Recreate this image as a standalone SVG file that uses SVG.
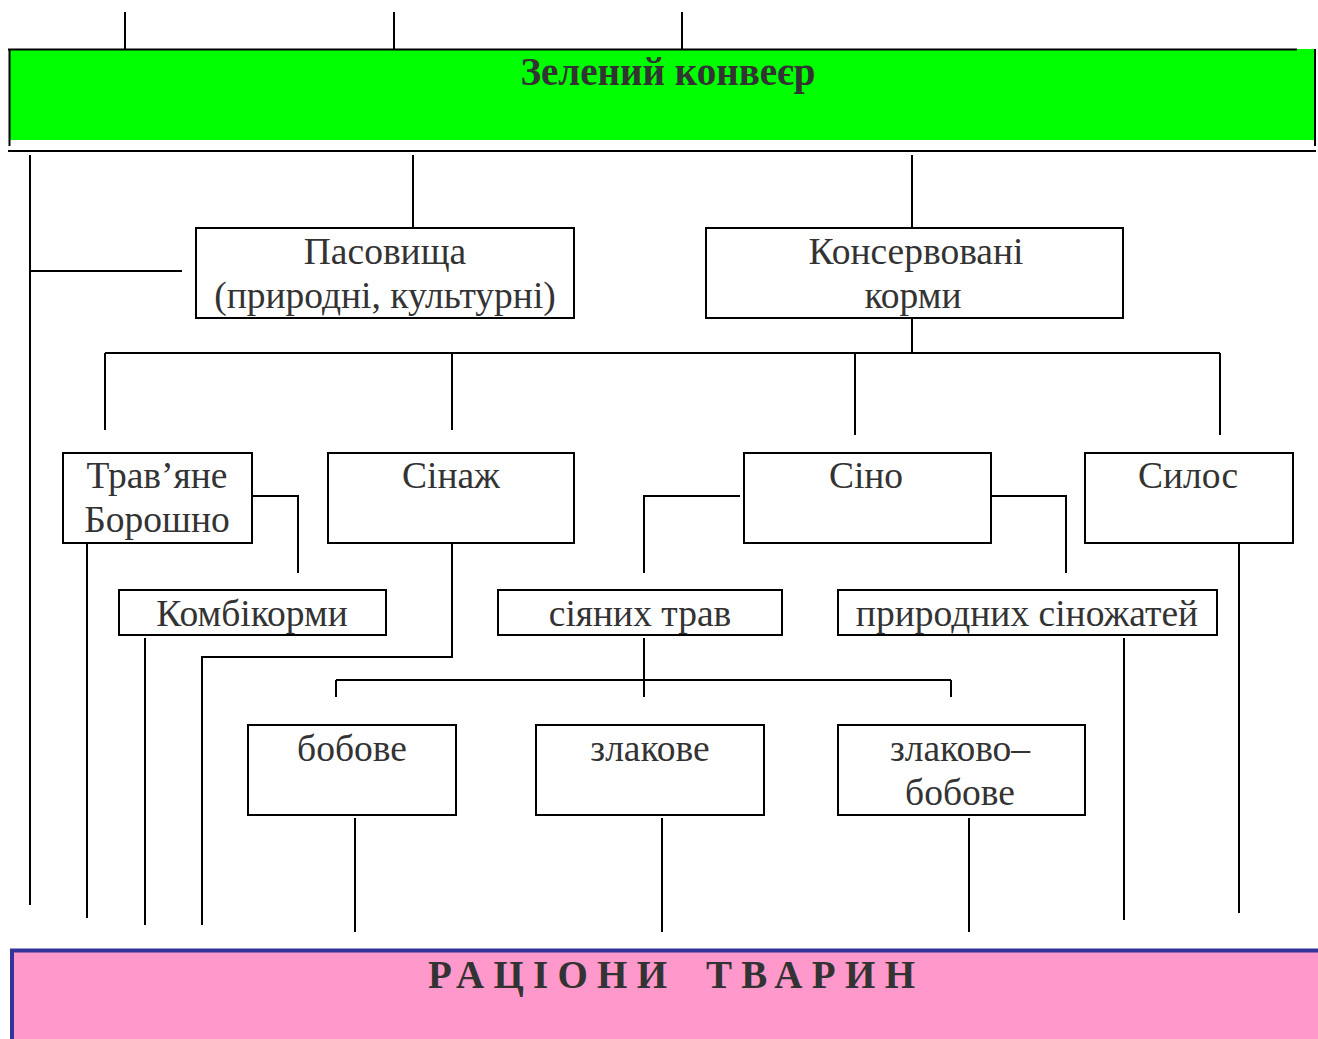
<svg xmlns="http://www.w3.org/2000/svg" width="1318" height="1039" viewBox="0 0 1318 1039">
<style>
.box{fill:#fff;stroke:#000;stroke-width:2}
.ln{stroke:#000;stroke-width:2;fill:none}
.t{font-family:"Liberation Serif","DejaVu Serif",serif;font-size:37.5px;fill:#333;text-anchor:middle}
.tb{font-family:"Liberation Serif","DejaVu Serif",serif;font-size:39px;font-weight:bold;fill:#333}
</style>
<rect width="1318" height="1039" fill="#fff"/>
<g id="zelenyi-konveier">
<rect x="10" y="49" width="1306" height="91" fill="#00ff00"/>
<line class="ln" x1="8" y1="49.5" x2="1105" y2="49.5" stroke-width="2.5"/>
<line class="ln" x1="1105" y1="49.5" x2="1297" y2="49.5" stroke-width="1.5"/>
<line class="ln" x1="9.5" y1="49" x2="9.5" y2="146"/>
<line class="ln" x1="1315" y1="49" x2="1315" y2="146"/>
<line class="ln" x1="8" y1="151" x2="1316" y2="151" stroke-width="2.5"/>
<text class="tb" x="668" y="85" text-anchor="middle">Зелений конвеєр</text>
</g>
<g id="connectors">
<path class="ln" d="M125 12V49M394 12V49M682 12V49"/>
<path class="ln" d="M30 155V905M30 271H182"/>
<path class="ln" d="M413 155V230M912 155V230"/>
<path class="ln" d="M912 310V353M105 353H1220M105 353V430M452 353V430M855 353V435M1220 353V435"/>
<path class="ln" d="M241 496H298V573"/>
<path class="ln" d="M87 535V918"/>
<path class="ln" d="M145 638V925"/>
<path class="ln" d="M452 535V657H202V925"/>
<path class="ln" d="M740 496H644V573"/>
<path class="ln" d="M990 496H1066V573"/>
<path class="ln" d="M1124 638V920"/>
<path class="ln" d="M1239 530V913"/>
<path class="ln" d="M644 638V697M336 680H951M336 680V697M951 680V697"/>
<path class="ln" d="M355 818V932M662 818V932M969 818V932"/>
</g>
<g id="pasovyshcha">
<rect class="box" x="196" y="228" width="378" height="90"/>
<text class="t" x="385" y="264">Пасовища</text>
<text class="t" x="385" y="308">(природні, культурні)</text>
</g>
<g id="konservovani">
<rect class="box" x="706" y="228" width="417" height="90"/>
<text class="t" x="916" y="264">Консервовані</text>
<text class="t" x="913" y="308">корми</text>
</g>
<g id="travyane">
<rect class="box" x="63" y="453" width="189" height="90"/>
<text class="t" x="157" y="488">Трав’яне</text>
<text class="t" x="157" y="532">Борошно</text>
</g>
<g id="sinazh">
<rect class="box" x="328" y="453" width="246" height="90"/>
<text class="t" x="451" y="488">Сінаж</text>
</g>
<g id="sino">
<rect class="box" x="744" y="453" width="247" height="90"/>
<text class="t" x="866" y="488">Сіно</text>
</g>
<g id="sylos">
<rect class="box" x="1085" y="453" width="208" height="90"/>
<text class="t" x="1188" y="488">Силос</text>
</g>
<g id="kombikormy">
<rect class="box" x="119" y="590" width="267" height="45"/>
<text class="t" x="252" y="626">Комбікорми</text>
</g>
<g id="siianykh">
<rect class="box" x="498" y="590" width="284" height="45"/>
<text class="t" x="640" y="626">сіяних трав</text>
</g>
<g id="pryrodnykh">
<rect class="box" x="838" y="590" width="379" height="45"/>
<text class="t" x="1027" y="626">природних сіножатей</text>
</g>
<g id="bobove">
<rect class="box" x="248" y="725" width="208" height="90"/>
<text class="t" x="352" y="761">бобове</text>
</g>
<g id="zlakove">
<rect class="box" x="536" y="725" width="228" height="90"/>
<text class="t" x="650" y="761">злакове</text>
</g>
<g id="zlakovo-bobove">
<rect class="box" x="838" y="725" width="247" height="90"/>
<text class="t" x="960" y="761">злаково–</text>
<text class="t" x="960" y="805">бобове</text>
</g>
<g id="ratsiony">
<rect x="12" y="950" width="1306" height="89" fill="#ff99cc"/>
<line x1="10" y1="950.5" x2="1318" y2="950.5" stroke="#333399" stroke-width="4"/>
<line x1="12" y1="949" x2="12" y2="1039" stroke="#333399" stroke-width="4"/>
<text class="tb" x="428" y="988" textLength="239" lengthAdjust="spacing">РАЦІОНИ</text>
<text class="tb" x="706" y="988" textLength="209" lengthAdjust="spacing">ТВАРИН</text>
</g>
</svg>
